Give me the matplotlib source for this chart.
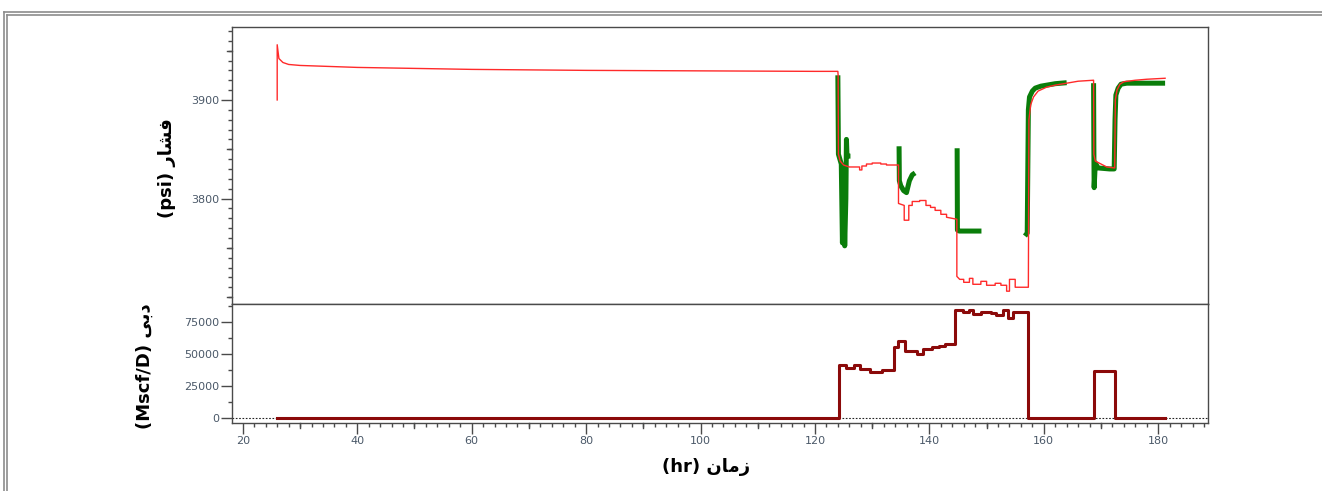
import numpy as np
import matplotlib
matplotlib.use("Agg")
import matplotlib.pyplot as plt
from matplotlib.lines import Line2D
from matplotlib.ticker import MultipleLocator, FixedLocator

# simulated pressure (red), psi vs hr
sim_t = [26, 26, 26.3, 27, 28, 30, 35, 40, 50, 60, 80, 100, 120, 124.0,
         124.05, 124.1, 124.4, 125.0, 126.0, 127.8, 127.8, 128.2, 128.2, 129.0,
         129.0, 130.0, 130.0, 131.5, 131.5, 132.5, 132.5, 134.6, 134.6, 135.6,
         135.6, 136.4, 136.4, 137.0, 137.0, 138.3, 138.3, 139.4, 139.4, 140.2,
         140.2, 141.0, 141.0, 142.0, 142.0, 143.0, 143.0, 144.8, 144.8, 145.3,
         146.0, 146.0, 147.0, 147.0, 147.6, 147.6, 149.0, 149.0, 150.0, 150.0,
         151.5, 151.5, 152.5, 152.5, 153.5, 153.5, 154.0, 154.0, 155.0, 155.0,
         157.3, 157.4, 157.7, 158.2, 159.0, 160.5, 162.0, 164.0, 166.0, 168.7,
         168.75, 169.0, 170.0, 171.0, 172.4, 172.5, 172.8, 173.3, 174.0, 176.0,
         178.0, 181.2]
sim_p = [3900, 3956, 3942, 3938, 3936, 3935, 3934, 3933, 3932, 3931, 3930, 3929.5, 3929, 3929,
         3925, 3845, 3838, 3834, 3832, 3832, 3829, 3829, 3833, 3833,
         3835, 3835, 3836, 3836, 3835, 3835, 3834, 3834, 3795, 3793,
         3778, 3778, 3793, 3793, 3797, 3797, 3798, 3798, 3793, 3793,
         3791, 3791, 3788, 3788, 3784, 3784, 3781, 3779, 3721, 3718,
         3718, 3715, 3715, 3719, 3719, 3713, 3713, 3716, 3716, 3712,
         3712, 3714, 3714, 3712, 3712, 3706, 3706, 3718, 3718, 3710,
         3710, 3880, 3895, 3903, 3909, 3913, 3915, 3917, 3919, 3920,
         3845, 3838, 3835, 3832, 3831, 3900, 3910, 3916, 3918.5, 3920,
         3921, 3922]

# observed pressure (green), nan separates the recorded intervals
nan = np.nan
obs_t = [124.0, 124.1, 124.6, 124.8, 125.0, 125.2, 125.4, 125.5, 125.6, 126.2, nan,
         134.7, 134.75, 135.0, 135.5, 136.0, 136.5, 137.0, 137.5, nan,
         144.85, 144.9, 145.2, 146.0, 147.0, 148.0, 149.1, nan,
         156.7, 157.1, 157.3, 157.5, 158.0, 158.5, 159.5, 160.5, 162.0, 164.0, nan,
         168.7, 168.75, 168.8, 169.0, 169.5, 170.5, 171.5, 172.3, 172.45, 172.6,
         173.0, 173.5, 174.5, 176.0, 181.2]
obs_p = [3925, 3845, 3835, 3755, 3820, 3752, 3800, 3860, 3843, 3843, nan,
         3853, 3818, 3813, 3808, 3806, 3818, 3824, 3826, nan,
         3851, 3768, 3767, 3767, 3767, 3767, 3767, nan,
         3762, 3765, 3890, 3903, 3909, 3912, 3914, 3915, 3916.5, 3917.5, nan,
         3917, 3850, 3811, 3836, 3831, 3830.5, 3830, 3830, 3880, 3905,
         3912, 3916, 3917, 3917, 3917]

# gas rate, Mscf/D (step changes)
rate_t = [26, 124.2, 125.5, 126.8, 127.9, 129.7, 131.7, 133.9, 134.6, 135.8, 137.8,
          138.9, 140.4, 141.7, 142.7, 144.4, 145.9, 146.9, 147.6, 149.1, 150.8,
          151.7, 152.9, 153.8, 154.6, 157.3, 168.8, 172.4, 181.2]
rate_q = [0, 40900, 38800, 40900, 37800, 35700, 37600, 55000, 59700, 52500, 49900,
          53800, 55000, 56300, 57600, 83900, 82600, 83900, 80800, 82600, 81500,
          80200, 83900, 78200, 82600, 0, 36500, 0, 0]

p_ticks = [3800, 3900]
p_mid_ticks = [3700, 3750, 3850, 3950]

# labels (Arabic presentation forms in visual order)
ylab_top = "(psi) \uFEAD\uFE8E\uFEB8\uFED3"      # فشار
ylab_bot = "(Mscf/D) \uFBFD\uFE91\uFEA9"          # دبی
xlab = "(hr) \uFEE5\uFE8E\uFEE3\uFEAF"             # زمان

W, H = 1322, 491
fig = plt.figure(figsize=(W / 100, H / 100), dpi=100)

spine_c = "#4a4a4a"
tick_lab_c = "#4a5868"

ax1 = fig.add_axes([232 / W, 1 - 304 / H, 976 / W, 277 / H])
ax2 = fig.add_axes([232 / W, 1 - 423 / H, 976 / W, 119 / H])

ax1.plot(sim_t, sim_p, color="#ff2a2a", lw=1.0, zorder=3)
ax1.plot(obs_t, obs_p, color="#0a7d0a", lw=3.6, solid_capstyle="butt", zorder=2)
ax1.set_xlim(18.1, 188.7)
ax1.set_ylim(3693, 3974)
ax1.set_xticks([])
ax1.yaxis.set_major_locator(FixedLocator(p_ticks))
ax1.yaxis.set_minor_locator(MultipleLocator(10))

ax2.axhline(0, color="#222222", lw=0.8, ls=(0, (1.5, 1.5)), zorder=1)
ax2.plot(rate_t, rate_q, drawstyle="steps-post", color="#8b0a0a", lw=2.2, zorder=3)
ax2.set_xlim(18.1, 188.7)
ax2.set_ylim(-3800, 88700)
ax2.yaxis.set_major_locator(MultipleLocator(25000))
ax2.yaxis.set_minor_locator(MultipleLocator(12500))
ax2.xaxis.set_major_locator(MultipleLocator(20))
ax2.xaxis.set_minor_locator(MultipleLocator(2))

for ax in (ax1, ax2):
    for s in ax.spines.values():
        s.set_color(spine_c)
        s.set_linewidth(1.0)
    ax.tick_params(which="major", length=8, width=1, color=spine_c,
                   labelsize=8, labelcolor=tick_lab_c, pad=1)
    ax.tick_params(which="minor", length=3, width=1, color=spine_c)

# medium ticks
for v in p_mid_ticks:
    ax1.plot([0, -5 / 976], [v, v], transform=ax1.get_yaxis_transform(),
             color=spine_c, lw=1, clip_on=False)
for v in range(30, 189, 20):
    ax2.plot([v, v], [0, -5 / 119], transform=ax2.get_xaxis_transform(),
             color=spine_c, lw=1, clip_on=False)

fig.text(167 / W, 1 - 168 / H, ylab_top, rotation=90, ha="center", va="center",
         fontsize=13, fontweight="bold")
fig.text(145 / W, 1 - 366 / H, ylab_bot, rotation=90, ha="center", va="center",
         fontsize=13, fontweight="bold")
fig.text(706 / W, 1 - 467 / H, xlab, ha="center", va="center",
         fontsize=13, fontweight="bold")

# window frame
frame_c = "#8c8c8c"
for off in (0, 3):
    fig.add_artist(Line2D([(4 + off) / W, 1], [1 - (12 + off) / H] * 2,
                          transform=fig.transFigure, color=frame_c, lw=1.2))
    fig.add_artist(Line2D([(4 + off) / W] * 2, [0, 1 - (12 + off) / H],
                          transform=fig.transFigure, color=frame_c, lw=1.2))

fig.savefig("out.png", dpi=100)
